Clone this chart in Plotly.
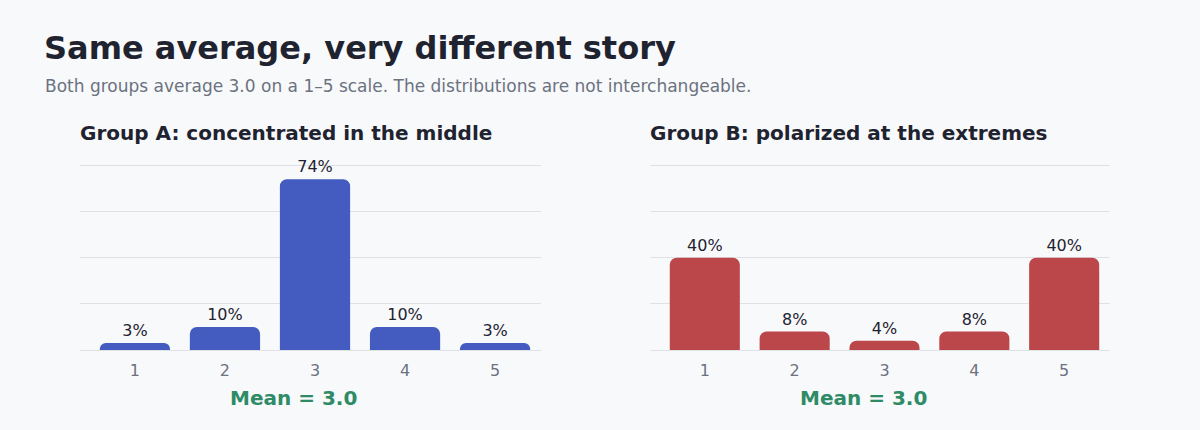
import plotly.graph_objects as go

categories = [1, 2, 3, 4, 5]
group_a = [3, 10, 74, 10, 3]
group_b = [40, 8, 4, 8, 40]
tick_labels = ["1", "2", "3", "4", "5"]
title = "Same average, very different story"
subtitle = "Both groups average 3.0 on a 1–5 scale. The distributions are not interchangeable."
title_a = "Group A: concentrated in the middle"
title_b = "Group B: polarized at the extremes"
mean_a = "Mean = 3.0"
mean_b = "Mean = 3.0"

W, H = 1200, 430
BG = "#f8f9fb"
BLUE = "#445cbf"
RED = "#bc474a"
GREEN = "#2e8b66"
DARK = "#1f2330"
GRAY = "#6b7280"
GRID = "#dfe1e6"
FONT = "DejaVu Sans"

def px(x):
    return x / W

def py(y):
    return 1 - y / H

fig = go.Figure()
for vals, color, xa, ya in [(group_a, BLUE, "x", "y"), (group_b, RED, "x2", "y2")]:
    fig.add_trace(go.Bar(
        x=categories, y=vals, xaxis=xa, yaxis=ya,
        marker=dict(color=color, cornerradius=7, line=dict(width=0)),
        width=0.78,
        text=[f"{v}%" for v in vals], textposition="outside",
        textfont=dict(family=FONT, size=16, color=DARK),
        cliponaxis=False, showlegend=False, hoverinfo="skip",
    ))

xrange = [0.39, 5.51]
yrange = [0, 81]
common_x = dict(range=xrange, tickmode="array", tickvals=categories, ticktext=tick_labels,
                showgrid=False, zeroline=False, showline=False, ticks="",
                ticklabelstandoff=9,
                tickfont=dict(family=FONT, size=16, color=GRAY), fixedrange=True)
common_y = dict(range=yrange, tickvals=[0, 20, 40, 60, 80], showticklabels=False,
                showgrid=True, gridcolor=GRID, gridwidth=1, zeroline=True,
                zerolinecolor=GRID, zerolinewidth=1, showline=False, ticks="", fixedrange=True)

ybot, ytop = py(350), py(163)
fig.update_layout(
    width=W, height=H, paper_bgcolor=BG, plot_bgcolor=BG,
    margin=dict(l=0, r=0, t=0, b=0),
    bargap=0.2,
    xaxis=dict(domain=[px(80), px(541)], anchor="y", **common_x),
    yaxis=dict(domain=[ybot, ytop], anchor="x", **common_y),
    xaxis2=dict(domain=[px(650), px(1110)], anchor="y2", **common_x),
    yaxis2=dict(domain=[ybot, ytop], anchor="x2", **common_y),
    font=dict(family=FONT),
)

ann = [
    dict(text=f"<b>{title}</b>", x=px(42), y=py(48), font=dict(size=32, color=DARK)),
    dict(text=subtitle, x=px(43), y=py(86), font=dict(size=17, color=GRAY)),
    dict(text=f"<b>{title_a}</b>", x=px(78), y=py(133), font=dict(size=20, color=DARK)),
    dict(text=f"<b>{title_b}</b>", x=px(648), y=py(133), font=dict(size=20, color=DARK)),
]
for a in ann:
    fig.add_annotation(xref="paper", yref="paper", xanchor="left", yanchor="middle",
                       showarrow=False, x=a["x"], y=a["y"], text=a["text"],
                       font=dict(family=FONT, **a["font"]))
for txt, cx in [(mean_a, 293.5), (mean_b, 863.5)]:
    fig.add_annotation(xref="paper", yref="paper", xanchor="center", yanchor="middle",
                       showarrow=False, x=px(cx), y=py(398), text=f"<b>{txt}</b>",
                       font=dict(family=FONT, size=20, color=GREEN))

fig.write_html("out.html", config={"displayModeBar": False},
               post_script="document.body.style.margin='0';document.body.style.background='%s';" % BG)
